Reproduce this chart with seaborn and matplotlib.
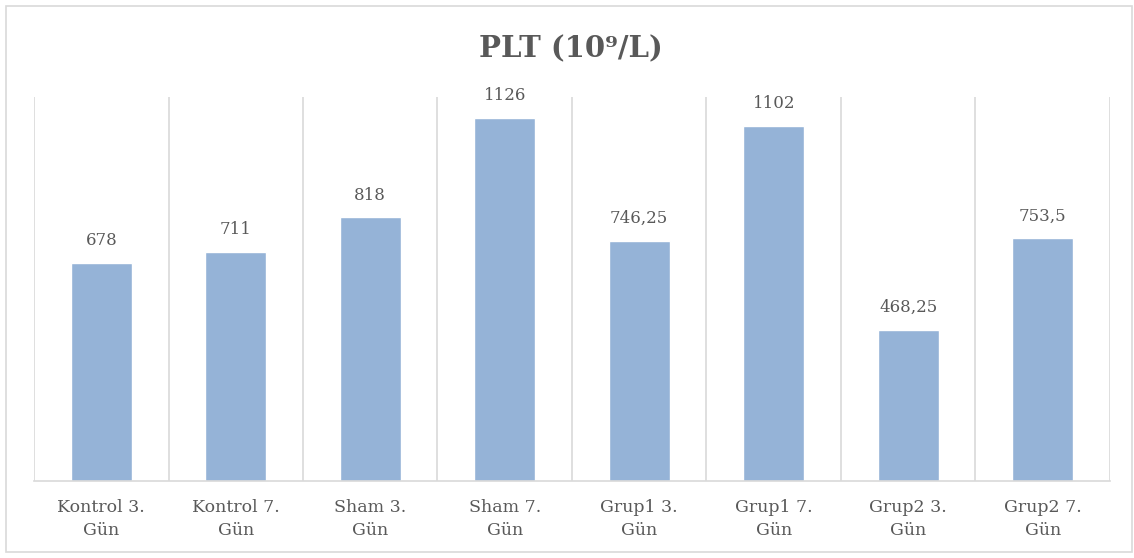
import matplotlib
matplotlib.use("Agg")
import matplotlib.pyplot as plt
import seaborn as sns
import pandas as pd
from matplotlib.patches import Rectangle

# === DATA ===
groups = ["Kontrol 3.\nGün", "Kontrol 7.\nGün", "Sham 3.\nGün", "Sham 7.\nGün",
          "Grup1 3.\nGün", "Grup1 7.\nGün", "Grup2 3.\nGün", "Grup2 7.\nGün"]
plt_values = [678, 711, 818, 1126, 746.25, 1102, 468.25, 753.5]

df = pd.DataFrame({"group": groups, "value": plt_values})

# === STYLE ===
sns.set_style("white")
plt.rcParams["font.family"] = ["DejaVu Serif"]
text_color = "#595959"
grid_color = "#D9D9D9"
bar_color = "#95B3D7"

fig = plt.figure(figsize=(11.34, 5.58), dpi=100)
ax = fig.add_axes([0.030, 0.1380, 0.9488, 0.6882])

sns.barplot(data=df, x="group", y="value", color=bar_color, width=0.455,
            saturation=1, ax=ax)

ax.set_ylim(0, 1192)
ax.set_xlim(-0.5, len(groups) - 0.5)
ax.set_xticks([i - 0.5 for i in range(len(groups) + 1)], minor=True)
ax.grid(True, which="minor", axis="x", color=grid_color, linewidth=1.2)
ax.grid(False, which="major")
ax.set_axisbelow(True)
ax.set_yticks([])
ax.set_xlabel("")
ax.set_ylabel("")
for side in ["top", "right", "left"]:
    ax.spines[side].set_visible(False)
ax.spines["bottom"].set_color(grid_color)
ax.spines["bottom"].set_linewidth(1.2)
ax.tick_params(axis="x", which="both", length=0, pad=13)
ax.set_xticks(range(len(groups)))
ax.set_xticklabels(groups, fontsize=12.5, color=text_color, linespacing=1.45)

# value labels
for i, v in enumerate(plt_values):
    label = f"{v:g}".replace(".", ",")
    ax.annotate(label, (i, v), xytext=(0, 10), textcoords="offset points",
                ha="center", va="bottom", fontsize=12, color=text_color)

fig.text(0.503, 0.913, "PLT (10⁹/L)", ha="center", va="center",
         fontsize=21, fontweight="bold", color=text_color)

# chart border
fig.patches.append(Rectangle((0.005, 0.011), 0.993, 0.978, transform=fig.transFigure,
                             fill=False, edgecolor=grid_color, linewidth=1.2))

fig.savefig("out.png", dpi=100)
